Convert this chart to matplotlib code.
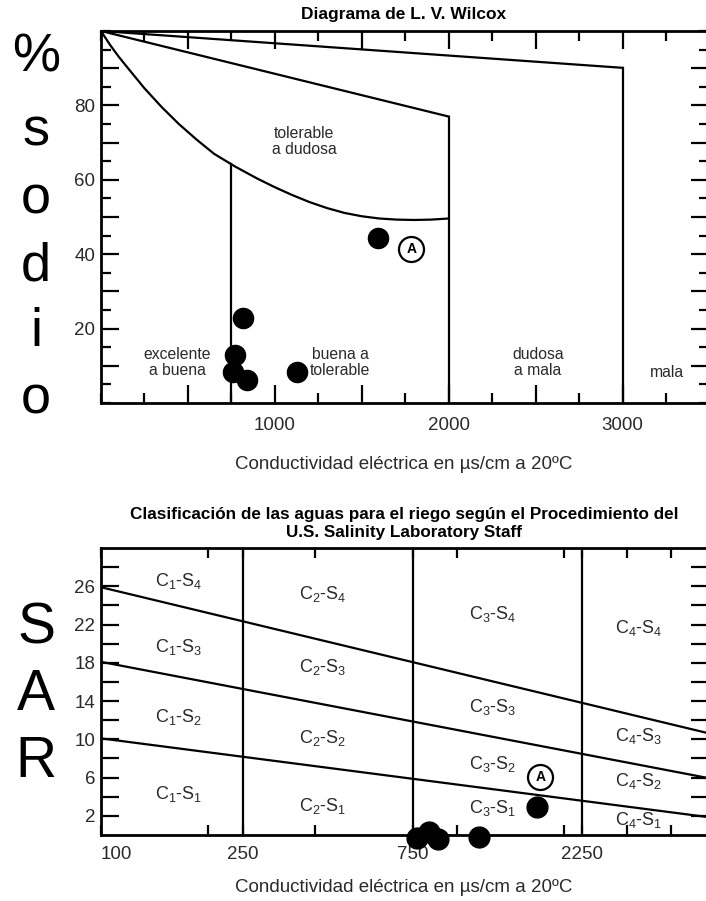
import matplotlib
matplotlib.use('Agg')
import matplotlib.pyplot as plt
from matplotlib.ticker import MultipleLocator, FixedLocator, NullFormatter

plt.rcParams['font.family'] = ['Liberation Sans', 'DejaVu Sans']
plt.rcParams['mathtext.fontset'] = 'custom'
plt.rcParams['mathtext.rm'] = 'Liberation Sans'
plt.rcParams['mathtext.it'] = 'Liberation Sans'
plt.rcParams['mathtext.default'] = 'regular'

# ---------------- Wilcox diagram data ----------------
wil_title = 'Diagrama de L. V. Wilcox'
xlabel_txt = 'Conductividad eléctrica en µs/cm a 20ºC'
wil_ylabel_chars = ['%', 's', 'o', 'd', 'i', 'o']
wil_xticks = [1000, 2000, 3000]
wil_yticks = [20, 40, 60, 80]
# curved boundary (excelente/buena vs tolerable)
wil_curve_x = [0, 50, 100, 150, 250, 350, 450, 550, 650, 770, 900, 1000, 1100,
               1200, 1300, 1400, 1500, 1600, 1700, 1800, 1900, 2000]
wil_curve_y = [100, 96.4, 93.2, 90.3, 84.6, 79.5, 74.9, 70.8, 67.0, 63.6, 60.3,
               58.0, 55.9, 54.0, 52.4, 51.1, 50.2, 49.6, 49.3, 49.2, 49.3, 49.6]
# straight boundaries from the top-left corner
wil_line2_x = [0, 2000]
wil_line2_y = [100, 77.0]
wil_line3_x = [0, 3000]
wil_line3_y = [100, 90.1]
# vertical boundaries
wil_vert_x = [750, 2000, 3000]
wil_vert_top = [64.2, 77.0, 90.1]
# samples
wil_pts_x = [1595, 817, 771, 760, 841, 1128]
wil_pts_y = [44.4, 22.8, 12.9, 8.3, 6.2, 8.3]
wil_A_x, wil_A_y = 1785, 41.4
# zone labels
wil_zone_txt = ['tolerable\na dudosa', 'excelente\na buena', 'buena a\ntolerable',
                'dudosa\na mala', 'mala']
wil_zone_x = [1167, 437, 1376, 2513, 3258]
wil_zone_y = [70.3, 10.9, 10.9, 10.9, 8.3]

# ---------------- USSL (SAR) diagram data ----------------
sar_title_lines = ['Clasificación de las aguas para el riego según el Procedimiento del',
                   'U.S. Salinity Laboratory Staff']
sar_ylabel_chars = ['S', 'A', 'R']
sar_xticks = [100, 250, 750, 2250]
sar_yticks = [2, 6, 10, 14, 18, 22, 26]
sar_class_x = [250, 750, 2250]
sar_bound_x = [100, 5000]
sar_bound_S12 = [10.1, 1.9]
sar_bound_S23 = [18.1, 6.0]
sar_bound_S34 = [25.9, 10.7]
sar_pts_x = [1672, 770, 836, 886, 1153]
sar_pts_y = [2.96, -0.35, 0.35, -0.45, -0.25]
sar_A_x, sar_A_y = 1715, 6.1
sar_lab_C = [1, 2, 3, 4]
sar_lab_col_x = [165, 420, 1260, 3240]
sar_lab_y = {1: [26.5, 19.7, 12.3, 4.3],
             2: [25.2, 17.6, 10.1, 3.0],
             3: [23.1, 13.4, 7.4, 2.8],
             4: [21.6, 10.3, 5.6, 1.6]}

# ---------------- figure ----------------
W, H = 706, 901
fig = plt.figure(figsize=(W / 100, H / 100), dpi=100)


def fx(px):
    return px / W


def fy(py):
    return 1 - py / H


LW = 1.6
TXT = '#2a2a2a'
TICKFS = 13.5

# ===== Wilcox axes =====
ax1 = fig.add_axes([fx(101), fy(403), fx(709) - fx(101), fy(31) - fy(403)])
ax1.set_xlim(0, 3497)
ax1.set_ylim(0, 100)
for s in ax1.spines.values():
    s.set_linewidth(2.0)
ax1.plot(wil_curve_x, wil_curve_y, color='k', lw=LW)
ax1.plot(wil_line2_x, wil_line2_y, color='k', lw=LW)
ax1.plot(wil_line3_x, wil_line3_y, color='k', lw=LW)
for xv, yt in zip(wil_vert_x, wil_vert_top):
    ax1.plot([xv, xv], [0, yt], color='k', lw=LW)
ax1.plot(wil_pts_x, wil_pts_y, 'o', color='k', ms=14.5, zorder=5)
ax1.plot([wil_A_x], [wil_A_y], 'o', mfc='white', mec='k', mew=1.6, ms=18, zorder=5)
ax1.text(wil_A_x, wil_A_y, 'A', ha='center', va='center', fontsize=10,
         fontweight='bold', zorder=6)
for t, xv, yv in zip(wil_zone_txt, wil_zone_x, wil_zone_y):
    ax1.text(xv, yv, t, ha='center', va='center', fontsize=11.3, color=TXT,
             linespacing=1.1)

ax1.xaxis.set_minor_locator(MultipleLocator(250))
ax1.yaxis.set_minor_locator(MultipleLocator(5))
major_x = [500 * i for i in range(1, 7)]
major_y = [10 * i for i in range(1, 10)]
ax1.set_xticks(major_x)
ax1.set_xticklabels([str(v) if v in wil_xticks else '' for v in major_x])
ax1.set_yticks(major_y)
ax1.set_yticklabels([str(v) if v in wil_yticks else '' for v in major_y])
ax1.tick_params(which='both', direction='in', top=True, right=True, width=1.6,
                colors='k', labelsize=TICKFS, labelcolor=TXT)
ax1.tick_params(which='major', length=13)
ax1.tick_params(which='minor', length=7)
ax1.tick_params(axis='x', pad=10)
ax1.tick_params(axis='y', pad=4)

fig.text(fx(404), fy(14), wil_title, ha='center', va='center', fontsize=12.5,
         fontweight='bold')
fig.text(fx(404), fy(465), xlabel_txt, ha='center', va='center', fontsize=13.5,
         color=TXT)
for ch, py in zip(wil_ylabel_chars, [58, 132, 200, 266, 332, 400]):
    fig.text(fx(36), fy(py), ch, ha='center', va='center', fontsize=39)

# ===== USSL axes =====
ax2 = fig.add_axes([fx(101), fy(835), fx(709) - fx(101), fy(548) - fy(835)])
ax2.set_xscale('log')
ax2.set_xlim(100, 5100)
ax2.set_ylim(0, 30)
for s in ax2.spines.values():
    s.set_linewidth(2.0)
for xv in sar_class_x:
    ax2.axvline(xv, color='k', lw=LW)
for b in (sar_bound_S12, sar_bound_S23, sar_bound_S34):
    ax2.plot(sar_bound_x, b, color='k', lw=LW)
ax2.plot(sar_pts_x, sar_pts_y, 'o', color='k', ms=15, zorder=5, clip_on=False)
ax2.plot([sar_A_x], [sar_A_y], 'o', mfc='white', mec='k', mew=1.6, ms=18, zorder=5)
ax2.text(sar_A_x, sar_A_y, 'A', ha='center', va='center', fontsize=10,
         fontweight='bold', zorder=6)
for c, xv in zip(sar_lab_C, sar_lab_col_x):
    for s_i, yv in zip([4, 3, 2, 1], sar_lab_y[c]):
        ax2.text(xv, yv, r'C$_{%d}$-S$_{%d}$' % (c, s_i), ha='center', va='center',
                 fontsize=13, color=TXT)

ax2.xaxis.set_major_locator(FixedLocator(sar_xticks))
ax2.xaxis.set_minor_locator(FixedLocator([200, 400, 1000, 2000, 3000, 4000]))
ax2.xaxis.set_minor_formatter(NullFormatter())
ax2.set_xticklabels([str(v) for v in sar_xticks])
ax2.xaxis.get_majorticklabels()[0].set_horizontalalignment('left')
ax2.yaxis.set_major_locator(FixedLocator(sar_yticks))
ax2.yaxis.set_minor_locator(FixedLocator([4, 8, 12, 16, 20, 24, 28]))
ax2.yaxis.set_minor_formatter(NullFormatter())
ax2.tick_params(which='both', direction='in', top=True, right=True, width=1.6,
                colors='k', labelsize=TICKFS, labelcolor=TXT)
ax2.tick_params(axis='y', which='both', length=13, pad=4)
ax2.tick_params(axis='x', which='both', length=7, pad=8)

for line, py in zip(sar_title_lines, [514, 532]):
    fig.text(fx(404), fy(py), line, ha='center', va='center', fontsize=12.3,
             fontweight='bold')
fig.text(fx(404), fy(887), xlabel_txt, ha='center', va='center', fontsize=13.5,
         color=TXT)
for ch, py in zip(sar_ylabel_chars, [628, 695, 762]):
    fig.text(fx(36), fy(py), ch, ha='center', va='center', fontsize=41)

fig.savefig('out.png', dpi=100)
